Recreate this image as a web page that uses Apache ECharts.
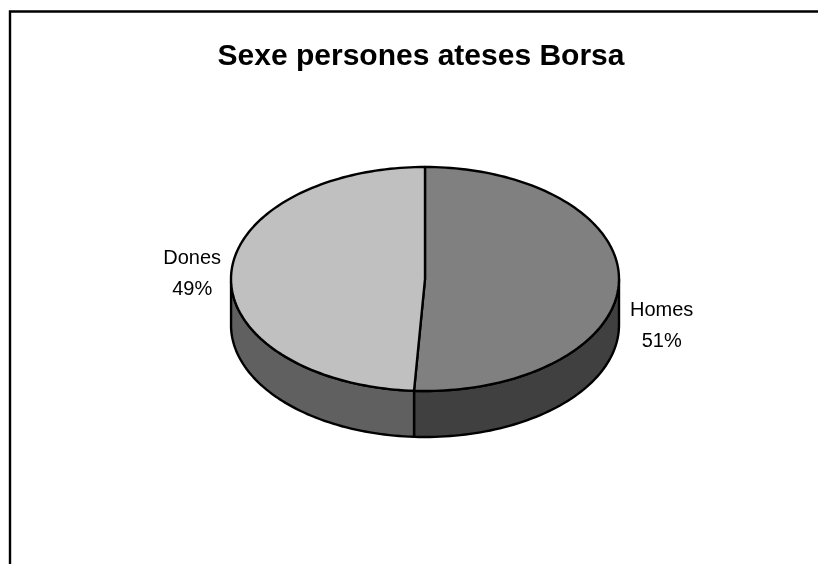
<!DOCTYPE html>
<html><head><meta charset="utf-8">
<style>html,body{margin:0;padding:0;background:#fff}#c{width:818px;height:564px}</style>
<script src="https://cdn.jsdelivr.net/npm/echarts@6/dist/echarts.min.js"></script>
</head><body><div id="c"></div>
<script>
const chartTitle = 'Sexe persones ateses Borsa';
const categories = ['Homes', 'Dones'];
const shares = [50.9, 49.1];
const topColors = ['#808080', '#c0c0c0'];
const sideColors = ['#404040', '#606060'];
const labelSpots = [[1.22, -0.418], [-1.2, 0.042]];
const DEPTH = 46;

const total = shares.reduce((a, b) => a + b, 0);
function startOf(i) { return shares.slice(0, i).reduce((a, b) => a + b, 0) / total * Math.PI * 2; }
const unit = a => [Math.sin(a), Math.cos(a)];

function renderItem(params, api) {
  const i = params.dataIndex;
  const a0 = startOf(i), a1 = a0 + api.value(1) / total * Math.PI * 2;
  const pt = a => api.coord(unit(a));
  const n = 120, arc = [];
  for (let k = 0; k <= n; k++) arc.push(pt(a0 + (a1 - a0) * k / n));
  const c = api.coord([0, 0]);
  const rim = arc.filter((p) => p[1] >= c[1] - 0.01);
  const side = rim.concat(rim.slice().reverse().map(p => [p[0], p[1] + DEPTH]));
  const lab = api.coord(labelSpots[i]);
  return { type: 'group', children: [
    { type: 'polygon', shape: { points: side }, style: { fill: sideColors[i], stroke: '#000', lineWidth: 2.4, lineJoin: 'round' } },
    { type: 'polygon', shape: { points: [c].concat(arc) }, style: { fill: topColors[i], stroke: '#000', lineWidth: 2.4, lineJoin: 'round' } },
    { type: 'text', x: lab[0], y: lab[1], style: {
        text: categories[i] + '\n' + Math.round(api.value(1)) + '%', align: 'center', verticalAlign: 'middle',
        fontFamily: 'Liberation Sans', fontSize: 20, lineHeight: 31, fill: '#000' } }
  ]};
}

const chart = echarts.init(document.getElementById('c'), null, { renderer: 'canvas' });
chart.setOption({
  animation: false,
  backgroundColor: '#fff',
  title: { text: chartTitle, left: 416, top: 37, textAlign: 'center',
    textStyle: { fontFamily: 'Liberation Sans', fontSize: 30, fontWeight: 'bold', color: '#000' } },
  grid: { left: 231, width: 388, top: 167, height: 224 },
  xAxis: { type: 'value', min: -1, max: 1, show: false },
  yAxis: { type: 'value', min: -1, max: 1, show: false },
  series: [{ type: 'custom', coordinateSystem: 'cartesian2d', renderItem, clip: false,
    encode: { x: 0, y: 1 }, silent: true,
    data: shares.map((v, i) => [i, v]) }],
  graphic: [
    { type: 'polyline', shape: { points: [[10, 564], [10, 11.5], [818, 11.5]] }, style: { stroke: '#000', lineWidth: 2.4, fill: null } }
  ]
});
</script></body></html>
